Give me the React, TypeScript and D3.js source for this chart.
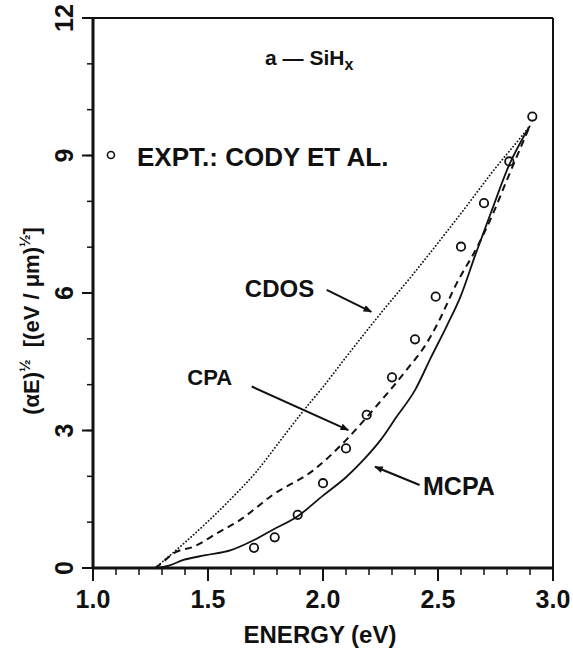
import React from "react";
import * as d3 from "d3";

// axis ticks
const X_MAJOR = [1.0, 1.5, 2.0, 2.5, 3.0];
const X_LABELS = ["1.0", "1.5", "2.0", "2.5", "3.0"];
const Y_MAJOR = [0, 3, 6, 9, 12];
const Y_LABELS = ["0", "3", "6", "9", "12"];

// experimental points (Cody et al.)
const EXPT_E = [1.70, 1.79, 1.89, 2.0, 2.1, 2.19, 2.3, 2.4, 2.49, 2.6, 2.7, 2.81, 2.91];
const EXPT_V = [0.44, 0.67, 1.16, 1.85, 2.61, 3.34, 4.16, 4.99, 5.92, 7.01, 7.96, 8.87, 9.85];

// MCPA (solid)
const MCPA_E = [1.27, 1.33, 1.39, 1.49, 1.60, 1.70, 1.78, 1.89, 2.0, 2.1, 2.18, 2.25, 2.32, 2.40, 2.47, 2.54, 2.60, 2.66, 2.73, 2.81, 2.90];
const MCPA_V = [0, 0.05, 0.17, 0.28, 0.39, 0.61, 0.83, 1.13, 1.58, 1.98, 2.38, 2.79, 3.30, 3.88, 4.6, 5.3, 5.95, 6.8, 7.75, 8.8, 9.65];

// CPA (dashed)
const CPA_E = [1.27, 1.29, 1.35, 1.44, 1.54, 1.64, 1.78, 1.96, 2.1, 2.23, 2.36, 2.45, 2.5, 2.58, 2.67, 2.74, 2.80, 2.90];
const CPA_V = [0, 0.07, 0.32, 0.47, 0.76, 1.05, 1.59, 2.14, 2.79, 3.52, 4.3, 4.9, 5.35, 6.2, 7.0, 7.74, 8.47, 9.65];

// CDOS (dotted)
const CDOS_E = [1.27, 1.38, 1.49, 1.61, 1.71, 1.81, 1.91, 2.0, 2.1, 2.25, 2.39, 2.54, 2.64, 2.73, 2.87, 2.90];
const CDOS_V = [0, 0.47, 0.97, 1.56, 2.1, 2.75, 3.4, 3.95, 4.6, 5.55, 6.4, 7.35, 8.0, 8.6, 9.46, 9.65];

const FONT = "'Liberation Sans', Arial, Helvetica, sans-serif";

export default function App() {
  const width = 573, height = 651;
  const margin = { top: 18, right: 20, bottom: 83, left: 93 };

  const x = d3.scaleLinear().domain([1, 3]).range([margin.left, width - margin.right]);
  const y = d3.scaleLinear().domain([0, 12]).range([height - margin.bottom, margin.top]);

  const line = d3.line<[number, number]>()
    .x(d => x(d[0]))
    .y(d => y(d[1]))
    .curve(d3.curveMonotoneX);

  const zip = (a: number[], b: number[]) => a.map((v, i) => [v, b[i]] as [number, number]);

  const x0 = x(1), x1 = x(3), y0 = y(0), y1 = y(12);
  const xMinor = d3.range(10, 31).map(d => d / 10);
  const yMinor = d3.range(0, 13);

  // annotations: label + arrow in data units
  const notes = [
    { text: "CDOS", size: 24, lx: 1.66, ly: 5.91, from: [2.016, 6.07], to: [2.21, 5.59] },
    { text: "CPA", size: 22, lx: 1.41, ly: 3.99, from: [1.69, 3.96], to: [2.11, 3.01] },
    { text: "MCPA", size: 25, lx: 2.435, ly: 1.59, from: [2.42, 1.81], to: [2.226, 2.21] },
  ];

  return (
    <svg width={width} height={height}
      style={{ position: "absolute", left: 0, top: 0, background: "#fff", fontFamily: FONT }}>
      <defs>
        <marker id="arr" viewBox="0 0 12 10" refX="11" refY="5" markerWidth="9" markerHeight="7"
          markerUnits="userSpaceOnUse" orient="auto">
          <path d="M0,0 L12,5 L0,10 z" fill="#111" />
        </marker>
      </defs>

      {/* frame */}
      <line x1={x0} x2={x1} y1={y1} y2={y1} stroke="#111" strokeWidth={2} />
      <line x1={x1} x2={x1} y1={y1} y2={y0} stroke="#111" strokeWidth={2} />
      <line x1={x0} x2={x0} y1={y1 - 1} y2={y0 + 1} stroke="#111" strokeWidth={3} />
      <line x1={x0 - 1} x2={x1 + 1} y1={y0} y2={y0} stroke="#111" strokeWidth={3} />

      {/* x ticks */}
      {xMinor.map(t => (
        <line key={"xm" + t} x1={x(t)} x2={x(t)} y1={y0} y2={y0 + 7} stroke="#111" strokeWidth={1.5} />
      ))}
      {X_MAJOR.map((t, i) => (
        <g key={"xM" + t}>
          <line x1={x(t)} x2={x(t)} y1={y0} y2={y0 + 13} stroke="#111" strokeWidth={2} />
          <text x={x(t)} y={608} textAnchor="middle" fontSize={25} fontWeight="bold" fill="#111">{X_LABELS[i]}</text>
        </g>
      ))}

      {/* y ticks */}
      {yMinor.map(t => (
        <line key={"ym" + t} x1={x0} x2={x0 - 6} y1={y(t)} y2={y(t)} stroke="#111" strokeWidth={1.5} />
      ))}
      {Y_MAJOR.map((t, i) => (
        <g key={"yM" + t}>
          <line x1={x0} x2={x0 - 11} y1={y(t)} y2={y(t)} stroke="#111" strokeWidth={2} />
          <text transform={`translate(73,${y(t)}) rotate(-90)`} textAnchor="middle" fontSize={25}
            fontWeight="bold" fill="#111">{Y_LABELS[i]}</text>
        </g>
      ))}

      {/* axis titles */}
      <text x={(x0 + x1) / 2 - 3} y={643} textAnchor="middle" fontSize={24} fontWeight="bold" fill="#111">
        ENERGY (eV)
      </text>
      <text transform="translate(39,321) rotate(-90)" textAnchor="middle" fontSize={22} fontWeight="bold"
        fill="#111" style={{ whiteSpace: "pre" }}>
        <tspan>(αE)</tspan>
        <tspan fontSize={15} dy={-9}>½</tspan>
        <tspan dy={9}>{"  [(eV / μm)"}</tspan>
        <tspan fontSize={15} dy={-9}>½</tspan>
        <tspan dy={9}>]</tspan>
      </text>

      {/* title + legend */}
      <text x={x(1.748)} y={y(10.97)} fontSize={21} fontWeight="bold" fill="#111" style={{ whiteSpace: "pre" }}>
        {"a — SiH"}<tspan fontSize={16} dy={5}>x</tspan>
      </text>
      <circle cx={x(1.078)} cy={y(9.01)} r={3.5} fill="none" stroke="#111" strokeWidth={1.6} />
      <text x={137} y={166} fontSize={26} fontWeight="bold" fill="#111">EXPT.: CODY ET AL.</text>

      {/* curves */}
      <path d={line(zip(CDOS_E, CDOS_V)) || ""} fill="none" stroke="#111" strokeWidth={1.8}
        strokeDasharray="0.1 3.3" strokeLinecap="round" />
      <path d={line(zip(CPA_E, CPA_V)) || ""} fill="none" stroke="#111" strokeWidth={2} strokeDasharray="7 5" />
      <path d={line(zip(MCPA_E, MCPA_V)) || ""} fill="none" stroke="#111" strokeWidth={1.8} />

      {/* experimental circles */}
      {EXPT_E.map((e, i) => (
        <circle key={"p" + i} cx={x(e)} cy={y(EXPT_V[i])} r={4.2} fill="none" stroke="#111" strokeWidth={1.8} />
      ))}

      {/* labels with arrows */}
      {notes.map(n => (
        <g key={n.text}>
          <text x={x(n.lx)} y={y(n.ly)} fontSize={n.size} fontWeight="bold" fill="#111">{n.text}</text>
          <line x1={x(n.from[0])} y1={y(n.from[1])} x2={x(n.to[0])} y2={y(n.to[1])}
            stroke="#111" strokeWidth={2} markerEnd="url(#arr)" />
        </g>
      ))}
    </svg>
  );
}
